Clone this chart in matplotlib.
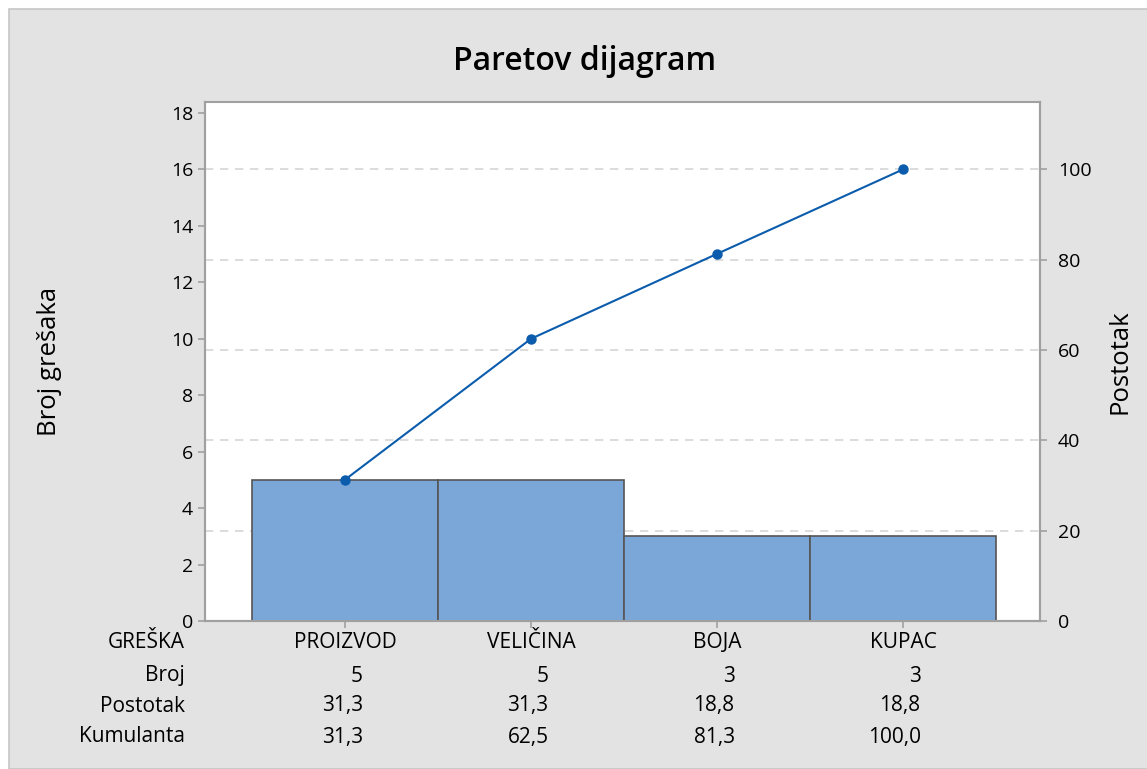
import matplotlib
matplotlib.use("Agg")
import matplotlib.pyplot as plt
from matplotlib.patches import Rectangle
import matplotlib.transforms as mtransforms

plt.rcParams['font.family'] = ['Open Sans', 'DejaVu Sans']

categories = ["PROIZVOD", "VELIČINA", "BOJA", "KUPAC"]
broj = [5, 5, 3, 3]
postotak = [31.3, 31.3, 18.8, 18.8]
kumulanta = [31.3, 62.5, 81.3, 100.0]
row_labels = ["GREŠKA", "Broj", "Postotak", "Kumulanta"]

W, H = 1147, 769
fig = plt.figure(figsize=(W / 100, H / 100), dpi=100, facecolor="white")

# gray panel
fig.patches.append(Rectangle((9 / W, 0), 1.0, 1 - 9 / H, transform=fig.transFigure,
                             facecolor="#e3e3e3", edgecolor="#c6c6c6", linewidth=1.2, zorder=-5))

ax = fig.add_axes([205 / W, 1 - 621 / H, 835 / W, 519 / H])
ax.set_facecolor("white")
x = list(range(len(categories)))
ax.bar(x, broj, width=1.0, color="#7ba7d8", edgecolor="#555555", linewidth=1.2, zorder=3)
ax.set_xlim(-0.753, 3.737)
ymax = 18.39
ax.set_ylim(0, ymax)
ax.set_yticks(range(0, 19, 2))
ax.set_xticks(x)
ax.set_xticklabels([])

ax2 = ax.twinx()
ax2.set_ylim(0, ymax / 16 * 100)
ax2.set_yticks(range(0, 101, 20))
for t in range(20, 101, 20):
    ax.axhline(t * 16 / 100, color="#d6d6d6", linestyle=(0, (5, 4)), linewidth=1.2, zorder=1)
ax2.plot(x, kumulanta, color="#0b5cad", linewidth=1.5, marker="o", markersize=6.5, zorder=5)

for a in (ax, ax2):
    for s in a.spines.values():
        s.set_color("#a0a0a0")
        s.set_linewidth(1.5)
    a.tick_params(axis="both", colors="#a0a0a0", labelcolor="black", labelsize=14,
                  length=5, width=1.2, direction="out")
ax2.tick_params(axis="y", pad=8)
ax2.spines['top'].set_visible(False)

ax.set_ylabel("Broj grešaka", fontsize=18.5)
ax.yaxis.set_label_coords(-(205 - 62) / 835, 0.5)
ax2.set_ylabel("Postotak", fontsize=18.5)
ax2.yaxis.set_label_coords((1108 - 205) / 835, 0.5)

fig.text(585 / W, 1 - 61 / H, "Paretov dijagram", ha="center", va="center",
         fontsize=23, fontweight="semibold")

# table below
trans = mtransforms.blended_transform_factory(ax.transData, fig.transFigure)
row_y = [643, 676, 706, 737]
fs = 15
for lbl, py in zip(row_labels, row_y):
    fig.text(185 / W, 1 - py / H, lbl, ha="right", va="center", fontsize=fs)
def fmt(v):
    return f"{v:.1f}".replace(".", ",")
for i in x:
    ax.text(i, 1 - row_y[0] / H, categories[i], transform=trans, ha="center", va="center", fontsize=fs)
    ax.text(i + 0.095, 1 - row_y[1] / H, str(broj[i]), transform=trans, ha="right", va="center", fontsize=fs)
    ax.text(i + 0.095, 1 - row_y[2] / H, fmt(postotak[i]), transform=trans, ha="right", va="center", fontsize=fs)
    ax.text(i + 0.095, 1 - row_y[3] / H, fmt(kumulanta[i]), transform=trans, ha="right", va="center", fontsize=fs)

fig.savefig("out.png", dpi=100, facecolor=fig.get_facecolor())
